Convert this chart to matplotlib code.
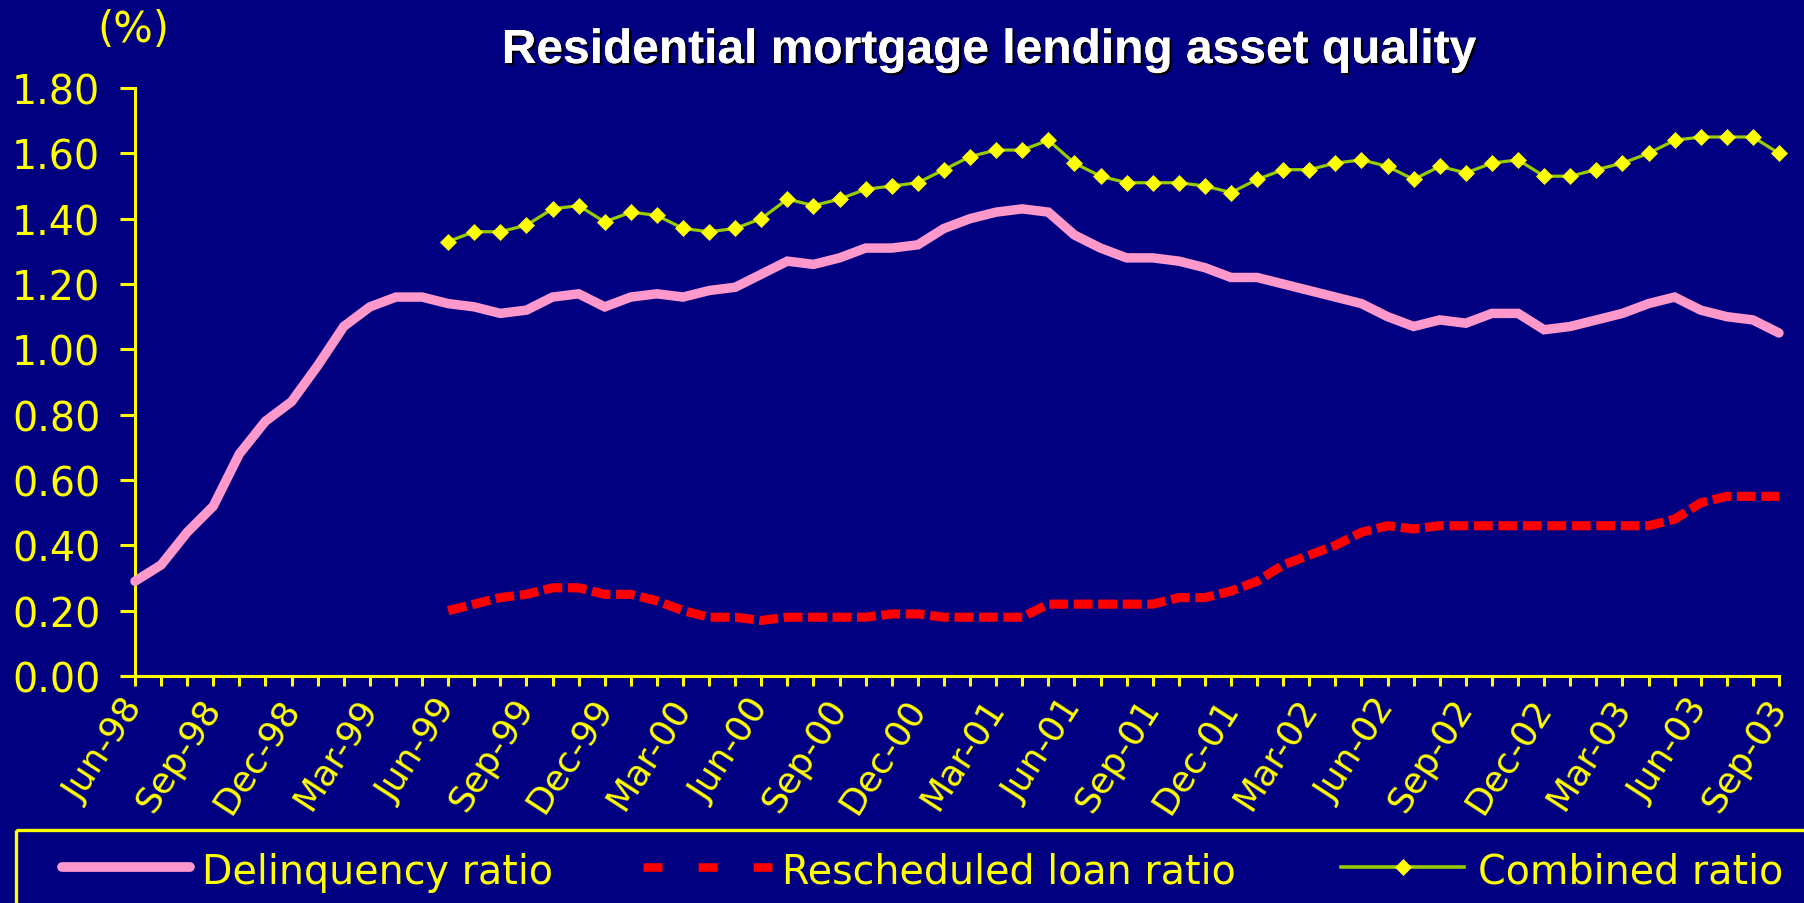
# Residential mortgage lending asset quality, monthly Jun-98 to Sep-03
import numpy as np
import pandas as pd
import matplotlib.pyplot as plt
from matplotlib import patheffects
from matplotlib.patches import Rectangle

plt.rcParams['font.family'] = ['DejaVu Sans']

# %% data
months = pd.date_range('1998-06-01', periods=64, freq='MS').strftime('%b-%y')

delinquency = [0.29, 0.34, 0.44, 0.52, 0.68, 0.78, 0.84, 0.95, 1.07, 1.13,
               1.16, 1.16, 1.14, 1.13, 1.11, 1.12, 1.16, 1.17, 1.13, 1.16,
               1.17, 1.16, 1.18, 1.19, 1.23, 1.27, 1.26, 1.28, 1.31, 1.31,
               1.32, 1.37, 1.40, 1.42, 1.43, 1.42, 1.35, 1.31, 1.28, 1.28,
               1.27, 1.25, 1.22, 1.22, 1.20, 1.18, 1.16, 1.14, 1.10, 1.07,
               1.09, 1.08, 1.11, 1.11, 1.06, 1.07, 1.09, 1.11, 1.14, 1.16,
               1.12, 1.10, 1.09, 1.05]

# rescheduled and combined ratios start in Jun-99
start_month = 'Jun-99'
rescheduled = [0.20, 0.22, 0.24, 0.25, 0.27, 0.27, 0.25, 0.25, 0.23, 0.20,
               0.18, 0.18, 0.17, 0.18, 0.18, 0.18, 0.18, 0.19, 0.19, 0.18,
               0.18, 0.18, 0.18, 0.22, 0.22, 0.22, 0.22, 0.22, 0.24, 0.24,
               0.26, 0.29, 0.34, 0.37, 0.40, 0.44, 0.46, 0.45, 0.46, 0.46,
               0.46, 0.46, 0.46, 0.46, 0.46, 0.46, 0.46, 0.48, 0.53, 0.55,
               0.55, 0.55]
combined = [1.33, 1.36, 1.36, 1.38, 1.43, 1.44, 1.39, 1.42, 1.41, 1.37,
            1.36, 1.37, 1.40, 1.46, 1.44, 1.46, 1.49, 1.50, 1.51, 1.55,
            1.59, 1.61, 1.61, 1.64, 1.57, 1.53, 1.51, 1.51, 1.51, 1.50,
            1.48, 1.52, 1.55, 1.55, 1.57, 1.58, 1.56, 1.52, 1.56, 1.54,
            1.57, 1.58, 1.53, 1.53, 1.55, 1.57, 1.60, 1.64, 1.65, 1.65,
            1.65, 1.60]

yticks = np.arange(0, 1.81, 0.2)

# colours
navy = '#000080'
yellow = '#FFFF00'
pink = '#FF99CC'
red = '#FF0000'
green = '#99CC00'

W, H = 1804, 904

# %% plot
x_all = np.arange(len(months))
i0 = list(months).index(start_month)
x_late = np.arange(i0, len(months))

fig = plt.figure(figsize=(W / 100, H / 100), dpi=100, facecolor=navy)
ax = fig.add_axes([135 / W, 1 - 677 / H, (1779 - 135) / W, (677 - 89) / H])
ax.set_facecolor(navy)

ax.plot(x_all, delinquency, color=pink, lw=6.8, solid_capstyle='round',
        solid_joinstyle='miter', clip_on=False, zorder=3)
ax.plot(x_late, rescheduled, color=red, lw=6.6, ls=(0, (2.05, 0.62)),
        dash_capstyle='butt', clip_on=False, zorder=4)
ax.plot(x_late, combined, color=green, lw=2.3, marker='D', ms=8,
        mfc=yellow, mec=yellow, mew=0.5, clip_on=False, zorder=5)

ax.set_xlim(0, len(months) - 1)
ax.set_ylim(0, 1.8)

for side in ['top', 'right']:
    ax.spines[side].set_visible(False)
for side in ['left', 'bottom']:
    ax.spines[side].set_color(yellow)
    ax.spines[side].set_linewidth(2.2)

ax.set_yticks(yticks)
ax.set_yticklabels([f'{v:.2f}' for v in yticks])
ax.tick_params(axis='y', colors=yellow, length=11, width=2.2, labelsize=28.5,
               pad=14)

ax.set_xticks(x_all)
ax.set_xticklabels([m if i % 3 == 0 else '' for i, m in enumerate(months)])
ax.tick_params(axis='x', colors=yellow, length=7, width=2.2, labelsize=26,
               pad=11)
for lab in ax.get_xticklabels():
    lab.set_rotation(57)
    lab.set_ha('right')
    lab.set_va('center')
    lab.set_rotation_mode('anchor')

fig.text(133 / W, 1 - 30 / H, '(%)', color=yellow, fontsize=30,
         ha='center', va='center')

fig.text(989 / W, 1 - 64 / H, 'Residential mortgage lending asset quality',
         color='white', fontsize=34.5, fontweight='bold',
         family=['Liberation Sans', 'DejaVu Sans'], ha='center', va='baseline',
         path_effects=[patheffects.withSimplePatchShadow(
             offset=(1.6, -1.6), shadow_rgbFace='black', alpha=1.0),
             patheffects.Normal()])

# %% legend box along the bottom, drawn in pixel units
lax = fig.add_axes([0, 0, 1, 1], facecolor='none')
lax.set_xlim(0, W)
lax.set_ylim(H, 0)
lax.axis('off')
lax.add_patch(Rectangle((16, 831), W, 200, fill=False, ec=yellow, lw=2.4))

ly = 868
lax.plot([62, 190], [ly, ly], color=pink, lw=7, solid_capstyle='round')
lax.text(202, 884, 'Delinquency ratio', color=yellow, fontsize=28.5,
         va='baseline')
lax.plot([643, 772], [ly, ly], color=red, lw=6.2, ls=(0, (2.2, 4.2)),
         dash_capstyle='butt')
lax.text(782, 884, 'Rescheduled loan ratio', color=yellow, fontsize=28.5,
         va='baseline')
lax.plot([1341, 1464], [ly, ly], color=green, lw=2.6)
lax.plot([1403], [ly], marker='D', ms=8, mfc=yellow, mec=yellow, mew=0.5)
lax.text(1478, 884, 'Combined ratio', color=yellow, fontsize=28.5,
         va='baseline')

fig.savefig('out.png', dpi=100, facecolor=navy)
